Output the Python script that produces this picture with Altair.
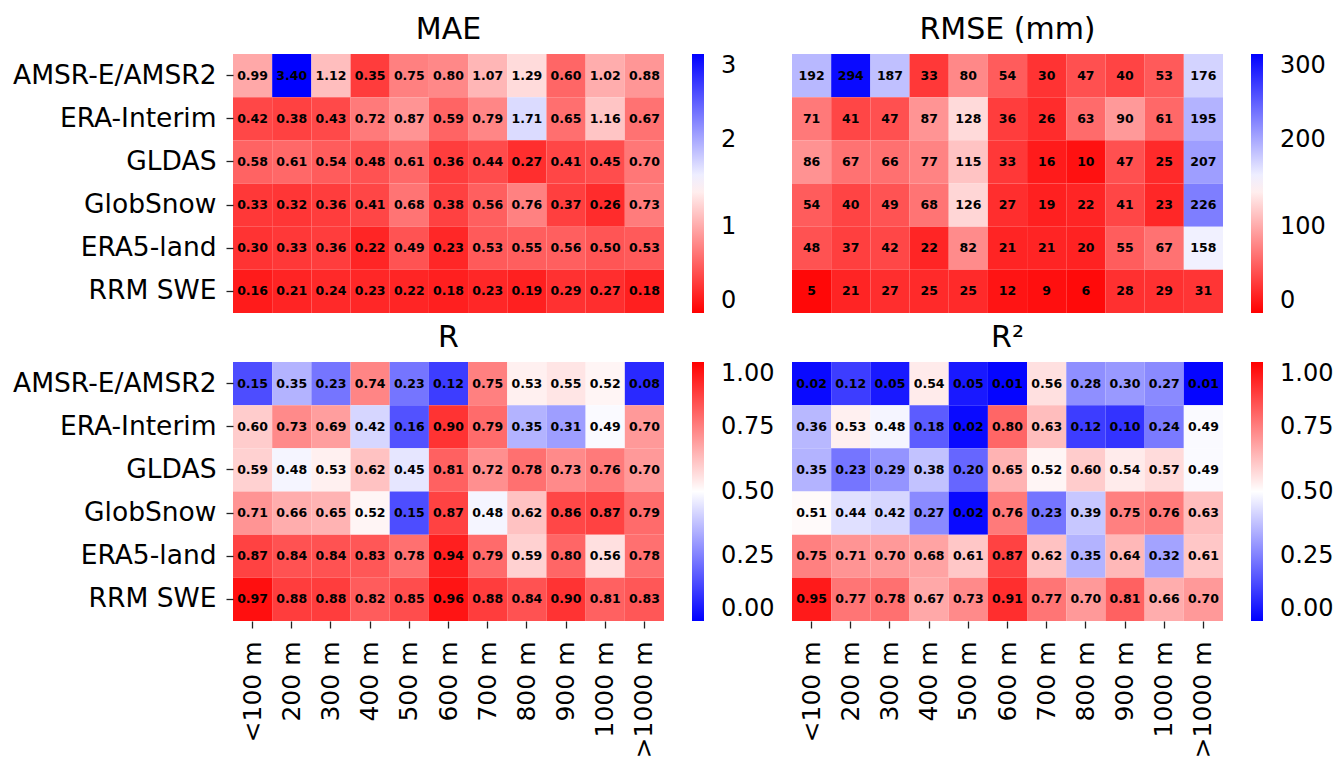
import altair as alt
import pandas as pd

models = ["AMSR-E/AMSR2", "ERA-Interim", "GLDAS", "GlobSnow", "ERA5-land", "RRM SWE"]
elevs = ["<100 m", "200 m", "300 m", "400 m", "500 m", "600 m", "700 m",
         "800 m", "900 m", "1000 m", ">1000 m"]

mae = [
    [0.99, 3.40, 1.12, 0.35, 0.75, 0.80, 1.07, 1.29, 0.60, 1.02, 0.88],
    [0.42, 0.38, 0.43, 0.72, 0.87, 0.59, 0.79, 1.71, 0.65, 1.16, 0.67],
    [0.58, 0.61, 0.54, 0.48, 0.61, 0.36, 0.44, 0.27, 0.41, 0.45, 0.70],
    [0.33, 0.32, 0.36, 0.41, 0.68, 0.38, 0.56, 0.76, 0.37, 0.26, 0.73],
    [0.30, 0.33, 0.36, 0.22, 0.49, 0.23, 0.53, 0.55, 0.56, 0.50, 0.53],
    [0.16, 0.21, 0.24, 0.23, 0.22, 0.18, 0.23, 0.19, 0.29, 0.27, 0.18],
]
rmse = [
    [192, 294, 187, 33, 80, 54, 30, 47, 40, 53, 176],
    [71, 41, 47, 87, 128, 36, 26, 63, 90, 61, 195],
    [86, 67, 66, 77, 115, 33, 16, 10, 47, 25, 207],
    [54, 40, 49, 68, 126, 27, 19, 22, 41, 23, 226],
    [48, 37, 42, 22, 82, 21, 21, 20, 55, 67, 158],
    [5, 21, 27, 25, 25, 12, 9, 6, 28, 29, 31],
]
r_vals = [
    [0.15, 0.35, 0.23, 0.74, 0.23, 0.12, 0.75, 0.53, 0.55, 0.52, 0.08],
    [0.60, 0.73, 0.69, 0.42, 0.16, 0.90, 0.79, 0.35, 0.31, 0.49, 0.70],
    [0.59, 0.48, 0.53, 0.62, 0.45, 0.81, 0.72, 0.78, 0.73, 0.76, 0.70],
    [0.71, 0.66, 0.65, 0.52, 0.15, 0.87, 0.48, 0.62, 0.86, 0.87, 0.79],
    [0.87, 0.84, 0.84, 0.83, 0.78, 0.94, 0.79, 0.59, 0.80, 0.56, 0.78],
    [0.97, 0.88, 0.88, 0.82, 0.85, 0.96, 0.88, 0.84, 0.90, 0.81, 0.83],
]
r2_vals = [
    [0.02, 0.12, 0.05, 0.54, 0.05, 0.01, 0.56, 0.28, 0.30, 0.27, 0.01],
    [0.36, 0.53, 0.48, 0.18, 0.02, 0.80, 0.63, 0.12, 0.10, 0.24, 0.49],
    [0.35, 0.23, 0.29, 0.38, 0.20, 0.65, 0.52, 0.60, 0.54, 0.57, 0.49],
    [0.51, 0.44, 0.42, 0.27, 0.02, 0.76, 0.23, 0.39, 0.75, 0.76, 0.63],
    [0.75, 0.71, 0.70, 0.68, 0.61, 0.87, 0.62, 0.35, 0.64, 0.32, 0.61],
    [0.95, 0.77, 0.78, 0.67, 0.73, 0.91, 0.77, 0.70, 0.81, 0.66, 0.70],
]

mae_ticks = [0, 1, 2, 3]
rmse_ticks = [0, 100, 200, 300]
r_ticks = [0, 0.25, 0.5, 0.75, 1.0]

BLUE, WHITE, RED = "#0000ff", "#ffffff", "#ff0000"
FONT = "DejaVu Sans"
W, H = 431, 259


def panel(values, title, domain, colors, fmt, ticks, tick_fmt, show_x, show_y):
    rows = []
    for i, m in enumerate(models):
        for j, e in enumerate(elevs):
            rows.append({"model": m, "elev": e, "v": values[i][j]})
    df = pd.DataFrame(rows)

    if show_x:
        x = alt.X("elev:N", sort=elevs, title=None,
                  axis=alt.Axis(labelAngle=270, labelFontSize=25, tickSize=7,
                                labelPadding=13, domain=False, tickWidth=1.3,
                                tickColor="#222222", labelColor="#000000",
                                labelFont=FONT, labelLimit=0))
    else:
        x = alt.X("elev:N", sort=elevs, title=None, axis=None)
    if show_y:
        y = alt.Y("model:N", sort=models, title=None,
                  axis=alt.Axis(labelFontSize=26.5, tickSize=7, labelPadding=10,
                                domain=False, tickWidth=1.3, tickColor="#222222",
                                labelColor="#000000", labelFont=FONT, labelLimit=0))
    else:
        y = alt.Y("model:N", sort=models, title=None, axis=None)

    color = alt.Color(
        "v:Q",
        scale=alt.Scale(domain=domain, range=colors, interpolate="rgb", clamp=True),
        legend=alt.Legend(title=None, orient="right", offset=28, direction="vertical",
                          gradientLength=H, gradientThickness=12,
                          gradientStrokeWidth=0, values=ticks, format=tick_fmt,
                          labelFontSize=24, labelOffset=17, labelBaseline="middle",
                          labelFont=FONT, labelColor="#000000", labelOverlap=False),
    )
    rect = alt.Chart(df).mark_rect().encode(x=x, y=y, color=color)
    text = alt.Chart(df).mark_text(font=FONT, fontWeight="bold", fontSize=12.5,
                                   color="#000000").encode(
        x=x, y=y, text=alt.Text("v:Q", format=fmt))
    return alt.layer(rect, text).properties(
        width=W, height=H,
        title=alt.TitleParams(title, fontSize=30, fontWeight="normal", font=FONT,
                              offset=9, color="#000000"),
    )


p1 = panel(mae, "MAE", [0, 1.5, 3], [RED, WHITE, BLUE], ".2f", mae_ticks, "d", False, True)
p2 = panel(rmse, "RMSE (mm)", [0, 150, 300], [RED, WHITE, BLUE], "d", rmse_ticks, "d", False, False)
p3 = panel(r_vals, "R", [0, 0.5, 1], [BLUE, WHITE, RED], ".2f", r_ticks, ".2f", True, True)
p4 = panel(r2_vals, "R²", [0, 0.5, 1], [BLUE, WHITE, RED], ".2f", r_ticks, ".2f", True, False)

chart = alt.concat(p1, p2, p3, p4, columns=2, spacing={"row": 10, "column": 17}).resolve_scale(
    color="independent"
).properties(
    padding={"left": 4, "top": 7, "right": 0, "bottom": 0}
).configure_view(strokeWidth=0)

chart.save("out.html", embed_options={"renderer": "svg", "actions": False})
